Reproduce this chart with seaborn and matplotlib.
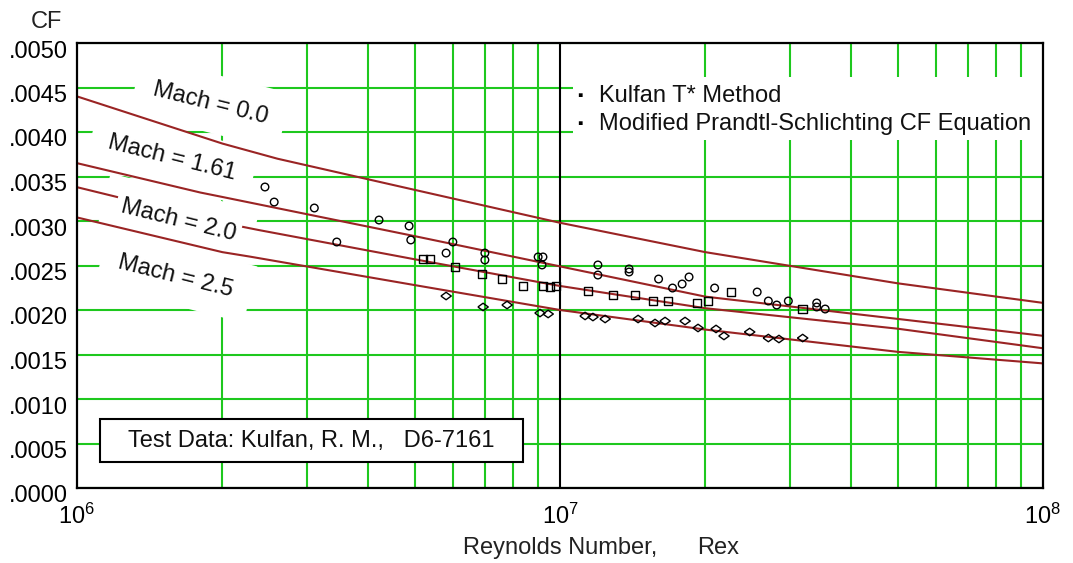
import numpy as np
import pandas as pd
import seaborn as sns
import matplotlib.pyplot as plt
from matplotlib.patches import Rectangle
from matplotlib.transforms import ScaledTranslation
from matplotlib.ticker import FixedLocator, LogLocator, NullFormatter

# ---- skin-friction curves (CF vs Reynolds number) ----
re_mach_0_0 = [1e6, 2e6, 2.6e6, 5e6, 1e7, 2e7, 5e7, 1e8]
cf_mach_0_0 = [0.00440, 0.00387, 0.00370, 0.00335, 0.00298, 0.00265, 0.00230, 0.00208]
re_mach_1_61 = [1e6, 1.8e6, 2e6, 5e6, 1e7, 2e7, 5e7, 1e8]
cf_mach_1_61 = [0.00365, 0.00332, 0.00327, 0.00283, 0.00249, 0.00215, 0.00190, 0.00171]
re_mach_2_0 = [1e6, 2e6, 2.37e6, 5e6, 1e7, 2e7, 5e7, 1e8]
cf_mach_2_0 = [0.00338, 0.00298, 0.00290, 0.00257, 0.00227, 0.00202, 0.00179, 0.00157]
re_mach_2_5 = [1e6, 2e6, 2.28e6, 5e6, 1e7, 2e7, 5e7, 1e8]
cf_mach_2_5 = [0.00304, 0.00265, 0.00260, 0.00228, 0.00200, 0.00178, 0.00153, 0.00140]
mach_labels = ["Mach = 0.0", "Mach = 1.61", "Mach = 2.0", "Mach = 2.5"]

# ---- test data (Kulfan, R. M., D6-7161) ----
re_circles = [2.45e6, 2.56e6, 3.10e6, 3.45e6, 4.22e6, 4.87e6, 4.91e6, 5.81e6,
              6.00e6, 6.99e6, 6.99e6, 9.01e6, 9.22e6, 9.18e6, 1.198e7, 1.198e7,
              1.39e7, 1.39e7, 1.60e7, 1.71e7, 1.79e7, 1.85e7, 2.09e7, 2.56e7,
              2.70e7, 2.81e7, 2.97e7, 3.40e7, 3.40e7, 3.54e7]
cf_circles = [0.003382, 0.003213, 0.003146, 0.002764, 0.003011, 0.002944, 0.002787, 0.002640,
              0.002764, 0.002640, 0.002562, 0.002596, 0.002596, 0.002506, 0.002506, 0.002393,
              0.002461, 0.002427, 0.002348, 0.002247, 0.002292, 0.002371, 0.002247, 0.002202,
              0.002101, 0.002056, 0.002101, 0.002079, 0.002034, 0.002011]

re_squares = [5.20e6, 5.38e6, 6.06e6, 6.90e6, 7.59e6, 8.38e6, 9.22e6, 9.53e6, 9.81e6,
              1.143e7, 1.288e7, 1.430e7, 1.558e7, 1.673e7, 1.921e7, 2.025e7, 2.26e7, 3.18e7]
cf_squares = [0.002573, 0.002573, 0.002483, 0.002404, 0.002348, 0.002270, 0.002270, 0.002258, 0.002270,
              0.002213, 0.002169, 0.002169, 0.002101, 0.002101, 0.002079, 0.002101, 0.002202, 0.002011]

re_diamonds = [5.81e6, 6.93e6, 7.77e6, 9.09e6, 9.45e6, 1.127e7, 1.170e7, 1.240e7, 1.451e7,
               1.573e7, 1.650e7, 1.815e7, 1.931e7, 2.104e7, 2.185e7, 2.47e7, 2.70e7, 2.84e7, 3.18e7]
cf_diamonds = [0.002157, 0.002034, 0.002056, 0.001966, 0.001955, 0.001933, 0.001921, 0.001899, 0.001899,
               0.001854, 0.001876, 0.001876, 0.001798, 0.001787, 0.001708, 0.001753, 0.001685, 0.001674, 0.001685]

y_ticks = [0.0, 0.0005, 0.0010, 0.0015, 0.0020, 0.0025, 0.0030, 0.0035, 0.0040, 0.0045, 0.0050]
x_ticks = [1e6, 1e7, 1e8]
x_tick_labels = [r"$\mathregular{10^{6}}$", r"$\mathregular{10^{7}}$", r"$\mathregular{10^{8}}$"]

GREEN = "#1ec81e"
RED = "#9a2424"
FS = 17
W, H = 1073, 563

sns.set_theme(style="white")
plt.rcParams["font.family"] = ["Liberation Sans", "DejaVu Sans"]
plt.rcParams["mathtext.fontset"] = "custom"
plt.rcParams["mathtext.rm"] = "Liberation Sans"
plt.rcParams["text.color"] = "black"

fig = plt.figure(figsize=(W / 100, H / 100), dpi=100)
ax = fig.add_axes([77 / W, 1 - 488 / H, 966 / W, 445 / H])

curve_sets = [(re_mach_0_0, cf_mach_0_0), (re_mach_1_61, cf_mach_1_61),
              (re_mach_2_0, cf_mach_2_0), (re_mach_2_5, cf_mach_2_5)]
curves = pd.concat([pd.DataFrame({"Re": r, "CF": c, "Mach": m})
                    for (r, c), m in zip(curve_sets, mach_labels)], ignore_index=True)
sns.lineplot(data=curves, x="Re", y="CF", units="Mach", estimator=None,
             color=RED, lw=1.5, zorder=2, ax=ax, legend=False)

diamond = [(-1, 0), (0, 0.72), (1, 0), (0, -0.72), (-1, 0)]
sns.scatterplot(x=re_circles, y=cf_circles, marker="o", s=30, facecolors="none",
                edgecolor="black", linewidth=1.0, zorder=3, ax=ax)
sns.scatterplot(x=re_squares, y=cf_squares, marker="s", s=38, facecolors="none",
                edgecolor="black", linewidth=1.0, zorder=3, ax=ax)
sns.scatterplot(x=re_diamonds, y=cf_diamonds, marker=diamond, s=56, facecolors="none",
                edgecolor="black", linewidth=1.0, zorder=3, ax=ax)

ax.set_xscale("log")
ax.set_xlim(1e6, 1e8)
ax.set_ylim(0, 0.005)
ax.xaxis.set_major_locator(FixedLocator(x_ticks))
ax.set_xticklabels(x_tick_labels, fontsize=FS)
ax.xaxis.set_minor_locator(LogLocator(base=10, subs=np.arange(2, 10)))
ax.xaxis.set_minor_formatter(NullFormatter())
ax.set_yticks(y_ticks)
ax.set_yticklabels([f"{v:.4f}"[1:] for v in y_ticks], fontsize=FS)
ax.tick_params(axis="both", which="both", length=0, colors="black")
ax.tick_params(axis="x", pad=11)
ax.tick_params(axis="y", pad=6.5)
ax.set_xlabel("")
ax.set_ylabel("")

# grid: green minor decades, green horizontal levels, black line at 10^7
ax.set_axisbelow(True)
ax.grid(which="minor", axis="x", color=GREEN, lw=1.5)
ax.grid(which="major", axis="y", color=GREEN, lw=1.5)
ax.grid(which="major", axis="x", visible=False)
ax.axvline(1e7, color="black", lw=1.5, zorder=1.7)
for sp in ax.spines.values():
    sp.set_color("black")
    sp.set_linewidth(1.6)

# y tick labels sit slightly below their grid lines
shift = ScaledTranslation(0, -6 / 100, fig.dpi_scale_trans)
for lab in ax.get_yticklabels():
    lab.set_transform(lab.get_transform() + shift)

# curve labels: wide white patch below the curves, tight one on top
label_pos = [(1.886e6, 0.004326), (1.573e6, 0.003708), (1.619e6, 0.003011), (1.603e6, 0.002382)]
for txt, (xr, yc) in zip(mach_labels, label_pos):
    ax.text(xr, yc, txt, fontsize=FS, rotation=-14, ha="center", va="center", color="white",
            bbox=dict(fc="white", ec="none", pad=13), zorder=1.6)
    ax.text(xr, yc, txt, fontsize=FS, rotation=-14, ha="center", va="center", color="#111111",
            bbox=dict(fc="white", ec="none", pad=3.5), zorder=4)

# legend block
ax.add_patch(Rectangle((0.5135, 0.782), 0.4865, 0.1416, transform=ax.transAxes,
                       fc="white", ec="none", zorder=1.65))
for yy, txt in [(0.881, "Kulfan T* Method"), (0.818, "Modified Prandtl-Schlichting CF Equation")]:
    ax.text(0.5207, yy, "\u25aa", transform=ax.transAxes, fontsize=11, ha="center", va="center",
            color="black", zorder=4)
    ax.text(0.5404, yy, txt, transform=ax.transAxes, fontsize=FS, ha="left", va="center",
            color="#111111", zorder=4)

# source box, sized around its text
src = fig.text(128 / W, 1 - 441 / H, "Test Data: Kulfan, R. M.,   D6-7161", fontsize=FS,
               ha="left", va="center", color="#111111", zorder=5)
fig.canvas.draw()
tb = src.get_window_extent()
bx0, bx1 = 100, tb.x1 + (tb.x0 - 100)
fig.add_artist(Rectangle((bx0 / W, 1 - 462 / H), (bx1 - bx0) / W, 43 / H,
                         transform=fig.transFigure, fc="white", ec="black", lw=1.5, zorder=4))

fig.text(46 / W, 1 - 22 / H, "CF", fontsize=FS, ha="center", va="center", color="#222222")
fig.text(463 / W, 1 - 548 / H, "Reynolds Number,", fontsize=FS, ha="left", va="center",
         color="#222222")
fig.text(697 / W, 1 - 548 / H, "Rex", fontsize=FS, ha="left", va="center", color="#222222")

fig.savefig("out.png", dpi=100, facecolor="white")
